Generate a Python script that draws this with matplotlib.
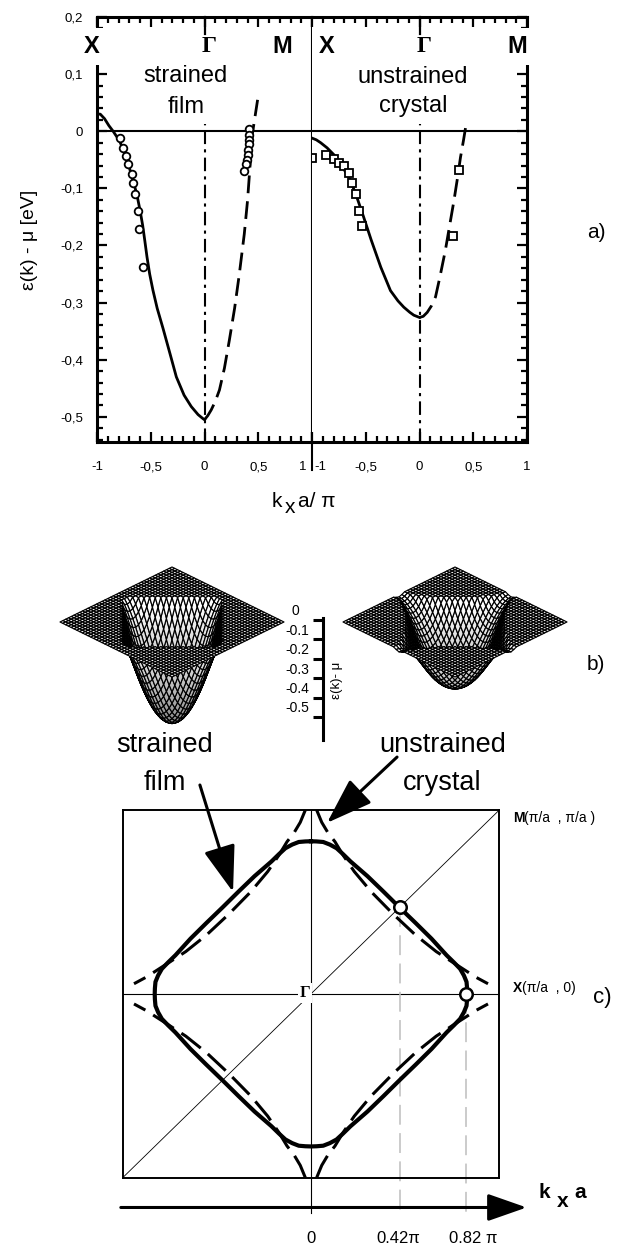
import numpy as np
import matplotlib
matplotlib.use("Agg")
import matplotlib.pyplot as plt
from matplotlib.ticker import MultipleLocator
from matplotlib.transforms import ScaledTranslation
from mpl_toolkits.mplot3d import Axes3D  # noqa: F401

plt.rcParams['font.family'] = 'Liberation Sans'

# ---------------- a) dispersion along X-G (left part) and G-M (right part), k in pi/a
film_line_k = [-1.0, -0.97, -0.93, -0.89, -0.85, -0.79, -0.726, -0.664, -0.63, -0.60, -0.575,
               -0.555, -0.535, -0.51, -0.48, -0.44, -0.386, -0.32, -0.262, -0.19, -0.123,
               -0.06, -0.015, 0.0]
film_line_e = [0.030, 0.030, 0.022, 0.010, 0.0, -0.017, -0.046, -0.087, -0.11, -0.138, -0.165,
               -0.192, -0.22, -0.25, -0.278, -0.31, -0.345, -0.39, -0.43, -0.462, -0.482,
               -0.496, -0.503, -0.505]
film_dash_k = [0.0, 0.03, 0.062, 0.10, 0.139, 0.185, 0.231, 0.28, 0.324, 0.37, 0.40, 0.445, 0.494]
film_dash_e = [-0.505, -0.498, -0.488, -0.473, -0.453, -0.415, -0.366, -0.31, -0.25, -0.18,
               -0.122, -0.005, 0.055]
film_arpes_xg_k = [-0.787, -0.756, -0.731, -0.710, -0.679, -0.664, -0.648, -0.617, -0.608, -0.574]
film_arpes_xg_e = [-0.012, -0.029, -0.044, -0.058, -0.075, -0.090, -0.110, -0.139, -0.171, -0.237]
film_arpes_gm_k = [0.41, 0.417, 0.417, 0.41, 0.405, 0.40, 0.395, 0.39, 0.37]
film_arpes_gm_e = [0.004, -0.006, -0.015, -0.023, -0.032, -0.041, -0.050, -0.058, -0.070]

crys_line_k = [-1.0, -0.96, -0.92, -0.86, -0.797, -0.72, -0.64, -0.58, -0.52, -0.45, -0.36,
               -0.27, -0.20, -0.146, -0.09, -0.053, 0.0]
crys_line_e = [-0.012, -0.015, -0.020, -0.029, -0.041, -0.061, -0.087, -0.117, -0.150, -0.190,
               -0.238, -0.279, -0.297, -0.308, -0.317, -0.322, -0.326]
crys_dash_k = [0.0, 0.035, 0.072, 0.11, 0.149, 0.19, 0.24, 0.285, 0.32, 0.355, 0.381, 0.41, 0.43]
crys_dash_e = [-0.326, -0.324, -0.317, -0.306, -0.29, -0.255, -0.209, -0.16, -0.122, -0.08,
               -0.046, -0.015, 0.008]
crys_arpes_xg_k = [-0.998, -0.874, -0.797, -0.75, -0.704, -0.658, -0.626, -0.595, -0.565, -0.533]
crys_arpes_xg_e = [-0.046, -0.042, -0.049, -0.055, -0.061, -0.073, -0.090, -0.110, -0.139, -0.166]
crys_arpes_gm_k = [0.366, 0.31]
crys_arpes_gm_e = [-0.067, -0.183]

k_ticks = [-1, -0.5, 0, 0.5, 1]
k_ticklabels = ['-1', '-0,5', '0', '0,5', '1']
e_ticks = [-0.5, -0.4, -0.3, -0.2, -0.1, 0.0, 0.1, 0.2]
e_ticklabels = ['-0,5', '-0,4', '-0,3', '-0,2', '-0,1', '0', '0,1', '0,2']

# ---------------- b) tight-binding bands (t, t', mu in eV) matching the G / X energies of a)
film_tb = (0.179, 0.0226, -0.1204)
crys_tb = (0.138, 0.0298, -0.107)
scale_ticks = [0, -0.1, -0.2, -0.3, -0.4, -0.5]
scale_labels = ['0', '-0.1', '-0.2', '-0.3', '-0.4', '-0.5']

# ---------------- c) Fermi surfaces, one quadrant (kx, ky in pi/a)
fs_film_kx = [0.0, 0.03, 0.065, 0.10, 0.136, 0.17, 0.21, 0.30, 0.385, 0.47, 0.556, 0.64, 0.72,
              0.76, 0.792, 0.812, 0.826, 0.829, 0.83]
fs_film_ky = [0.83, 0.829, 0.826, 0.812, 0.792, 0.76, 0.72, 0.64, 0.556, 0.47, 0.385, 0.30, 0.21,
              0.17, 0.136, 0.10, 0.065, 0.03, 0.0]
fs_crys_kx = [0.03, 0.057, 0.092, 0.127, 0.17, 0.23, 0.32, 0.435, 0.555, 0.665, 0.755, 0.828,
              0.873, 0.94]
fs_crys_ky = [1.0, 0.933, 0.873, 0.828, 0.755, 0.665, 0.555, 0.435, 0.32, 0.23, 0.17, 0.122,
              0.092, 0.055]
kf_kx = [0.47, 0.822]
kf_ky = [0.47, 0.0]
kf_labels = ['0.42\u03c0', '0.82 \u03c0']

W, H = 624, 1247
fig = plt.figure(figsize=(W / 100, H / 100), dpi=100)


def rect(x0, y0, x1, y1):
    return [x0 / W, 1 - y1 / H, (x1 - x0) / W, (y1 - y0) / H]


def ftext(x, y, s, **kw):
    return fig.text(x / W, 1 - y / H, s, **kw)


# ======================= panel a =======================
axL = fig.add_axes(rect(97, 17, 312, 442))
axR = fig.add_axes(rect(312, 17, 527, 442))
for ax in (axL, axR):
    ax.set_xlim(-1, 1)
    ax.set_ylim(-0.544, 0.2)
    ax.axhline(0, color='k', lw=1.5)
    ax.plot([0, 0], [-0.544, 0.013], color='k', lw=1.5, dashes=(6.5, 2.5, 1.5, 2.5))
    ax.set_xticks(k_ticks)
    ax.set_xticklabels(k_ticklabels)
    ax.xaxis.set_minor_locator(MultipleLocator(0.1))
    ax.set_yticks(e_ticks)
    ax.set_yticklabels(e_ticklabels)
    ax.yaxis.set_minor_locator(MultipleLocator(0.02))
    for s in ax.spines.values():
        s.set_linewidth(2.2)
    ax.tick_params(which='both', direction='in', top=True, width=1.6, labelsize=9.5, pad=10)
    ax.tick_params(axis='x', pad=14)
    ax.tick_params(which='major', length=7)
    ax.tick_params(which='minor', length=4)
    ax.plot([0, 0], [1, 0.96], transform=ax.get_xaxis_transform(), color='k', lw=1.6,
            clip_on=False)

axL.spines['right'].set_visible(False)
axL.tick_params(which='both', right=False)
axR.spines['left'].set_visible(False)
axR.tick_params(which='both', left=False, right=True, labelleft=False)
axL.plot([1, 1], [-0.066, 1], transform=axL.transAxes, color='k', lw=1.5, clip_on=False)

axL.plot(film_line_k, film_line_e, color='k', lw=2.0)
axL.plot(film_dash_k, film_dash_e, color='k', lw=2.0, dashes=(6.4, 2.9))
axL.plot(film_arpes_xg_k, film_arpes_xg_e, ls='none', marker='o', ms=5.5, mfc='white',
         mec='k', mew=1.3)
axL.plot(film_arpes_gm_k, film_arpes_gm_e, ls='none', marker='o', ms=5.5, mfc='white',
         mec='k', mew=1.3)
axR.plot(crys_line_k, crys_line_e, color='k', lw=2.0)
axR.plot(crys_dash_k, crys_dash_e, color='k', lw=2.0, dashes=(6.4, 2.9))
axR.plot(crys_arpes_xg_k, crys_arpes_xg_e, ls='none', marker='s', ms=5.5, mfc='white',
         mec='k', mew=1.3)
axR.plot(crys_arpes_gm_k, crys_arpes_gm_e, ls='none', marker='s', ms=5.5, mfc='white',
         mec='k', mew=1.3)

# tick labels either side of the shared boundary
lab = axL.xaxis.get_major_ticks()[-1].label1
lab.set_transform(lab.get_transform() + ScaledTranslation(-0.09, 0, fig.dpi_scale_trans))
lab = axR.xaxis.get_major_ticks()[0].label1
lab.set_transform(lab.get_transform() + ScaledTranslation(0.08, 0, fig.dpi_scale_trans))

sym = dict(fontsize=17, fontweight='bold', va='center', ha='center')
wbox = dict(facecolor='white', edgecolor='none', pad=5)
axL.text(-1.046, 0.148, 'X', bbox=wbox, **sym)
axL.text(0.04, 0.148, '\u0393', family='Liberation Serif', **sym)
axL.text(0.727, 0.148, 'M', **sym)
axR.text(-0.865, 0.148, 'X', **sym)
axR.text(0.04, 0.148, '\u0393', family='Liberation Serif', **sym)
axR.text(0.912, 0.148, 'M', bbox=wbox, **sym)

ftext(185, 82, 'strained', fontsize=17, ha='center', va='baseline')
ftext(186, 113, 'film', fontsize=17, ha='center', va='baseline')
ftext(413, 83, 'unstrained', fontsize=17, ha='center', va='baseline')
ftext(413, 112, 'crystal', fontsize=17, ha='center', va='baseline')
ftext(30, 240, '\u03b5(k) - \u03bc [eV]', fontsize=14, rotation=90, ha='center', va='center')
ftext(272, 507, 'k', fontsize=15, va='baseline')
ftext(285, 513, 'x', fontsize=15, va='baseline')
ftext(298, 507, 'a/ \u03c0', fontsize=15, va='baseline')
ftext(596, 233, 'a)', fontsize=15, ha='center', va='center')

# ======================= panel b =======================
kgrid = np.linspace(-np.pi, np.pi, 41)
KX, KY = np.meshgrid(kgrid, kgrid)


def surface(x_center, tb):
    t, tp, mu = tb
    eps = -2 * t * (np.cos(KX) + np.cos(KY)) + 4 * tp * np.cos(KX) * np.cos(KY) - mu
    z = np.minimum(eps, 0.0)
    cols = plt.cm.gray(np.clip(1.0 + 0.95 * z, 0, 1))
    size = 260
    ax = fig.add_axes(rect(x_center - 0.5135 * size, 676.5 - 0.4865 * size,
                           x_center + 0.4865 * size, 676.5 + 0.5135 * size),
                      projection='3d')
    ax.set_proj_type('ortho')
    ax.view_init(elev=29.4, azim=45)
    ax.plot_surface(KX, KY, z, facecolors=cols, edgecolor='k', linewidth=0.85,
                    rstride=1, cstride=1, shade=False, antialiased=True)
    ax.set_xlim(-np.pi, np.pi)
    ax.set_ylim(-np.pi, np.pi)
    ax.set_zlim(-0.55, 0)
    ax.set_box_aspect((1, 1, 0.79), zoom=0.958)
    ax.set_axis_off()
    ax.patch.set_visible(False)
    return ax


surface(172, film_tb)
surface(455, crys_tb)

axs = fig.add_axes(rect(323, 618, 340, 740))
axs.set_ylim(-0.6186, 0.0103)
axs.set_xlim(0, 1)
for side in ('top', 'right', 'bottom'):
    axs.spines[side].set_visible(False)
axs.spines['left'].set_linewidth(2.2)
axs.set_xticks([])
axs.set_yticks(scale_ticks)
axs.set_yticklabels(scale_labels)
axs.tick_params(axis='y', direction='out', length=7, width=2.2, labelsize=10, pad=3)
axs.patch.set_visible(False)
for i, lab in enumerate(axs.get_yticklabels()):
    dx = -0.1 if i == 0 else 0
    lab.set_transform(lab.get_transform() + ScaledTranslation(dx, 0.1, fig.dpi_scale_trans))
ftext(337, 680, '\u03b5(k)- \u03bc', fontsize=9.5, rotation=90, ha='center', va='center')
ftext(596, 665, 'b)', fontsize=15, ha='center', va='center')

# ======================= panel c =======================
axc = fig.add_axes(rect(122.7, 810, 499.3, 1177.7))
axc.set_xlim(-1, 1)
axc.set_ylim(-1, 1)
axc.set_xticks([])
axc.set_yticks([])
for s in axc.spines.values():
    s.set_linewidth(1.4)
axc.patch.set_visible(False)

axc.axhline(0, color='k', lw=0.8)
axc.plot([0, 0], [1, -1.19], color='k', lw=0.8, clip_on=False)
axc.plot([-1, 1], [-1, 1], color='k', lw=0.6)

qx, qy = np.asarray(fs_film_kx), np.asarray(fs_film_ky)
loop_x = np.concatenate([qx, qx[::-1], -qx, -qx[::-1]])
loop_y = np.concatenate([qy, -qy[::-1], -qy, qy[::-1]])
axc.plot(loop_x, loop_y, color='k', lw=3.0, solid_joinstyle='round', zorder=4)

cx, cy = np.asarray(fs_crys_kx), np.asarray(fs_crys_ky)
for sx, sy in [(1, 1), (1, -1), (-1, -1), (-1, 1)]:
    axc.plot(sx * cx, sy * cy, color='k', lw=2.2, dashes=(8, 3), zorder=3)

for x0, y0 in zip(kf_kx, kf_ky):
    axc.plot([x0, x0], [y0, -1.19], color='#bdbdbd', lw=1.1, dashes=(13, 5.5),
             clip_on=False, zorder=2)
axc.plot(kf_kx, kf_ky, ls='none', marker='o', ms=9, mfc='white', mec='k', mew=1.8,
         zorder=5)

axc.text(-0.032, 0.004, '\u0393', family='Liberation Serif', fontweight='bold', fontsize=12,
         ha='center', va='center', zorder=6,
         bbox=dict(facecolor='white', edgecolor='none', pad=1.5))

axc.annotate('', xy=(1.145, -1.162), xytext=(-1.01, -1.162), annotation_clip=False,
             arrowprops=dict(arrowstyle='-|>,head_length=1.2,head_width=0.42',
                             mutation_scale=20, lw=2.2, color='k', shrinkA=0, shrinkB=0))
axc.text(0, -1.33, '0', fontsize=12, ha='center', va='center', clip_on=False)
axc.text(0.462, -1.33, kf_labels[0], fontsize=12, ha='center', va='center', clip_on=False)
axc.text(0.86, -1.33, kf_labels[1], fontsize=12, ha='center', va='center', clip_on=False)

axc.annotate('', xy=(-0.414, 0.554), xytext=(-0.59, 1.136), annotation_clip=False,
             arrowprops=dict(arrowstyle='-|>,head_length=1.6,head_width=0.55',
                             mutation_scale=18, lw=2.2, color='k', shrinkA=0, shrinkB=0))
axc.annotate('', xy=(0.085, 0.93), xytext=(0.457, 1.288), annotation_clip=False,
             arrowprops=dict(arrowstyle='-|>,head_length=1.6,head_width=0.55',
                             mutation_scale=18, lw=2.2, color='k', shrinkA=0, shrinkB=0))

ftext(165, 752, 'strained', fontsize=19.5, ha='center', va='baseline')
ftext(165, 790, 'film', fontsize=19.5, ha='center', va='baseline')
ftext(443, 752, 'unstrained', fontsize=19.5, ha='center', va='baseline')
ftext(442, 790, 'crystal', fontsize=19.5, ha='center', va='baseline')

ftext(513, 822, 'M', fontsize=10, fontweight='bold', va='baseline')
ftext(524, 822, '(\u03c0/a  , \u03c0/a )', fontsize=10, va='baseline')
ftext(513, 992, 'X', fontsize=10, fontweight='bold', va='baseline')
ftext(522, 992, '(\u03c0/a  , 0)', fontsize=10, va='baseline')
ftext(602, 998, 'c)', fontsize=16, ha='center', va='center')

ftext(538, 1198, 'k', fontsize=15, fontweight='bold', va='baseline')
ftext(557, 1207, 'x', fontsize=15, fontweight='bold', va='baseline')
ftext(574, 1198, 'a', fontsize=15, fontweight='bold', va='baseline')

fig.savefig('out.png', dpi=100)
